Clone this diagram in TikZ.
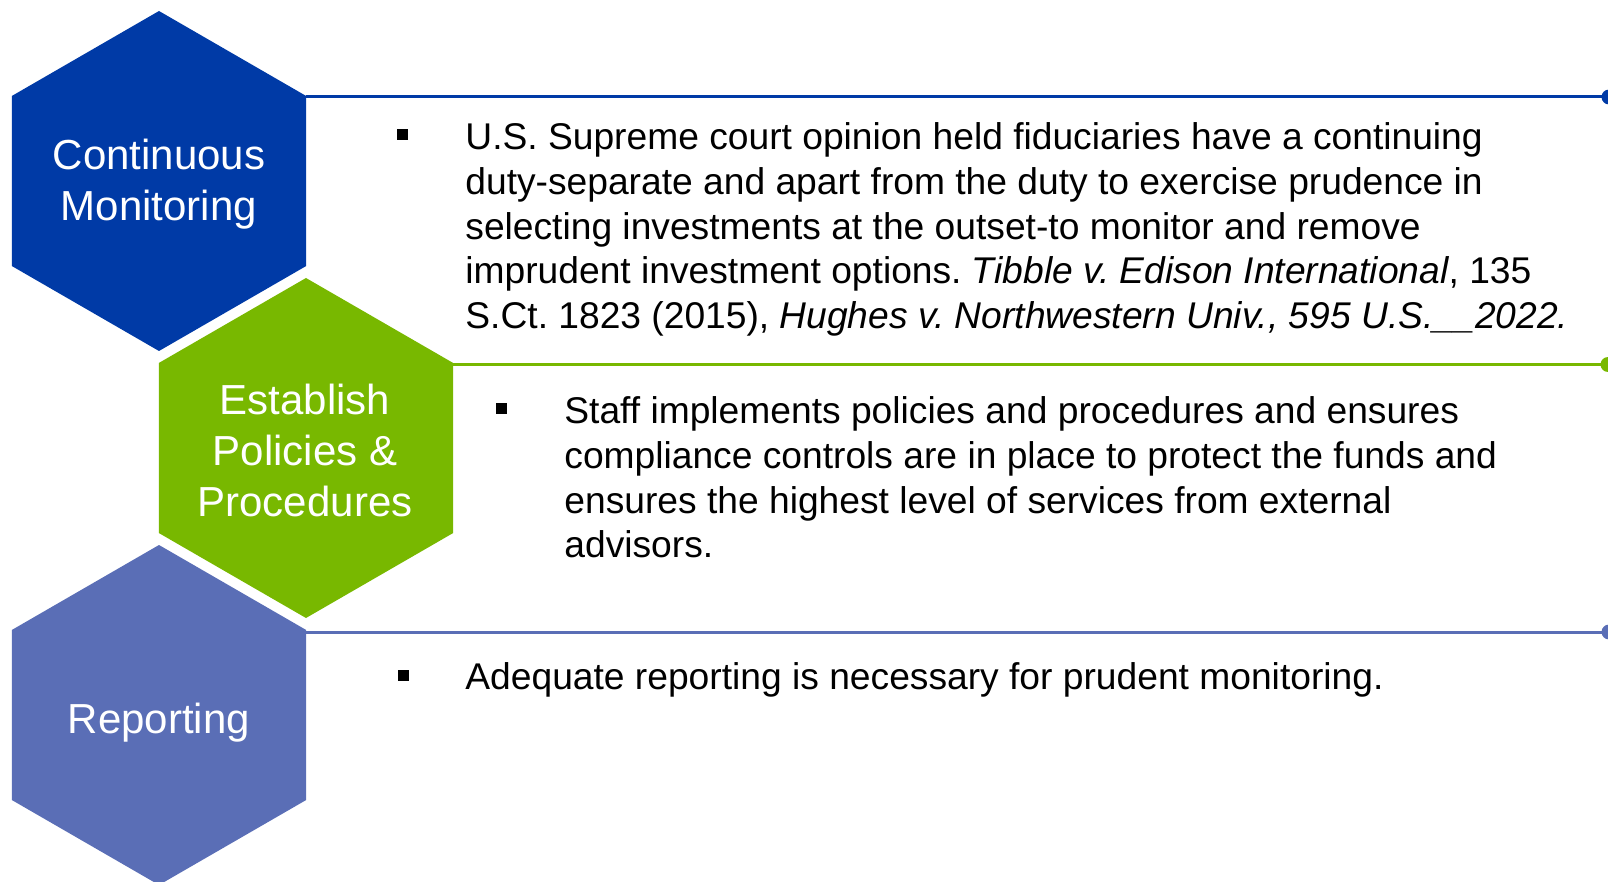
\documentclass[tikz,border=0pt]{standalone}
\usepackage{fontspec}
\setmainfont{Liberation Sans}
\frenchspacing
\definecolor{deepblue}{RGB}{0,58,166}
\definecolor{leafgreen}{RGB}{120,184,0}
\definecolor{slateblue}{RGB}{90,110,182}
\begin{document}
\frenchspacing
\begin{tikzpicture}[x=0.5pt,y=-0.5pt,
  hexlabel/.style={text=white, inner sep=0, anchor=base,
    font=\fontsize{21}{25.5}\selectfont},
  bodytext/.style={text=black, inner sep=0, anchor=base west,
    font=\fontsize{18.6}{22.4}\selectfont},
  sqbullet/.style={rectangle, fill=black, inner sep=0, outer sep=0, minimum size=5.5pt},
  rule/.style={line width=1.5pt},
  enddot/.style={circle, inner sep=0, outer sep=0, minimum size=7.5pt}]
\useasboundingbox (0,0) rectangle (1608,882);
\clip (0,0) rectangle (1608,882);

% hexagons (pointy top, circumradius 170)
\fill[deepblue]  (159,11)  -- (306.2,96)  -- (306.2,266) -- (159,351) -- (11.8,266)  -- (11.8,96)  -- cycle;
\fill[leafgreen] (306,278) -- (453.2,363) -- (453.2,533) -- (306,618) -- (158.8,533) -- (158.8,363) -- cycle;
\fill[slateblue] (159,545) -- (306.2,630) -- (306.2,800) -- (159,885) -- (11.8,800)  -- (11.8,630) -- cycle;

% upper-right corners where the rules start
\coordinate (h1r) at (305.5,97);
\coordinate (h2r) at (452.5,364.5);
\coordinate (h3r) at (305.5,632);

% rules with end dots
\node[enddot, fill=deepblue]  (d1) at (1609,97) {};
\node[enddot, fill=leafgreen] (d2) at (1608,364.5) {};
\node[enddot, fill=slateblue] (d3) at (1609,632) {};
\draw[rule, deepblue]  (h1r) -- (d1);
\draw[rule, leafgreen] (h2r) -- (d2);
\draw[rule, slateblue] (h3r) -- (d3);

% hexagon labels
\node[hexlabel] (l1) at (159,170) {\parbox[t]{150pt}{\centering Continuous\\Monitoring}};
\node[hexlabel] (l2) at (305,415) {\parbox[t]{150pt}{\centering Establish\\Policies \&\\Procedures}};
\node[hexlabel] (l3) at (159,733) {\parbox[t]{150pt}{\centering Reporting}};

% bullets
\node[sqbullet] (b1) at (402,135) {};
\node[sqbullet] (b2) at (501.5,409) {};
\node[sqbullet] (b3) at (403,675) {};

% body texts
\node[bodytext] (t1) at (465,149.5) {\parbox[t]{600pt}{\raggedright
U.S. Supreme court opinion held fiduciaries have a continuing\\
duty-separate and apart from the duty to exercise prudence in\\
selecting investments at the outset-to monitor and remove\\
imprudent investment options. \textit{Tibble v. Edison International}, 135\\
S.Ct. 1823 (2015), \textit{Hughes v. Northwestern Univ., 595 U.S.\_\_2022.}}};

\node[bodytext] (t2) at (564,423.5) {\parbox[t]{600pt}{\raggedright
Staff implements policies and procedures and ensures\\
compliance controls are in place to protect the funds and\\
ensures the highest level of services from external\\
advisors.}};

\node[bodytext] (t3) at (465,689.5) {\parbox[t]{600pt}{\raggedright
Adequate reporting is necessary for prudent monitoring.}};
\end{tikzpicture}
\end{document}
